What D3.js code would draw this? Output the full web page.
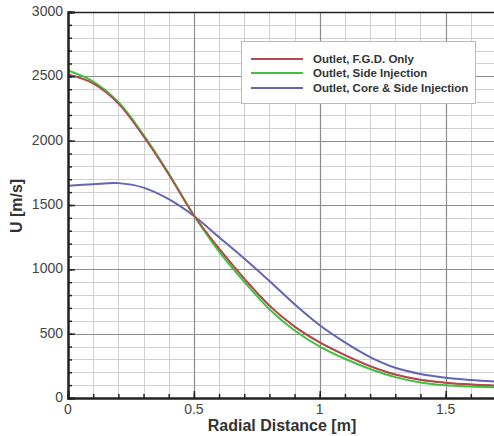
<!DOCTYPE html>
<html>
<head>
<meta charset="utf-8">
<script src="https://cdn.jsdelivr.net/npm/d3@7"></script>
<style>
  body { margin: 0; background: #fff; }
  svg { display: block; font-family: "Liberation Sans", Arial, sans-serif; }
</style>
</head>
<body>
<div id="chart"></div>
<script>
// radial positions (m)
var radius = [0, 0.1, 0.2, 0.3, 0.4, 0.5, 0.6, 0.7, 0.8, 0.9, 1.0, 1.1, 1.2, 1.3, 1.4, 1.5, 1.6, 1.7];

// U [m/s] for each case
var fgdOnly   = [2515, 2445, 2290, 2035, 1740, 1420, 1160, 928, 718, 555, 432, 333, 248, 182, 141, 119, 105, 96];
var sideInj   = [2545, 2460, 2300, 2045, 1745, 1420, 1138, 903, 690, 525, 400, 305, 225, 162, 121, 99, 89, 83];
var coreSide  = [1650, 1662, 1670, 1635, 1545, 1415, 1250, 1085, 910, 728, 565, 432, 318, 235, 187, 158, 140, 127];

var seriesNames = ["Outlet, F.G.D. Only", "Outlet, Side Injection", "Outlet, Core & Side Injection"];
var seriesColors = ["#b5484a", "#3fc13f", "#6464b4"];

var xTicks = [0, 0.5, 1, 1.5];
var yTicks = [0, 500, 1000, 1500, 2000, 2500, 3000];

var W = 494, H = 436;
var margin = {top: 12, right: -2, bottom: 38, left: 68};
var width = W - margin.left - margin.right,
    height = H - margin.top - margin.bottom;

var xScale = d3.scaleLinear().domain([0, 1.7]).range([0, width]);
var yScale = d3.scaleLinear().domain([0, 3000]).range([height, 0]);

var svg = d3.select("#chart").append("svg")
    .attr("width", W).attr("height", H);

var g = svg.append("g")
    .attr("transform", "translate(" + margin.left + "," + margin.top + ")");

// minor grid
g.selectAll(".vminor").data(d3.range(0, 1.71, 0.1)).enter().append("line")
    .attr("x1", function(d) { return Math.round(xScale(d)) + 0.5; })
    .attr("x2", function(d) { return Math.round(xScale(d)) + 0.5; })
    .attr("y1", 0).attr("y2", height)
    .attr("stroke", "#d0d0d0").attr("stroke-width", 1);
g.selectAll(".hminor").data(d3.range(0, 3001, 100)).enter().append("line")
    .attr("y1", function(d) { return Math.round(yScale(d)) + 0.5; })
    .attr("y2", function(d) { return Math.round(yScale(d)) + 0.5; })
    .attr("x1", 0).attr("x2", width)
    .attr("stroke", "#d0d0d0").attr("stroke-width", 1);

// major grid
g.selectAll(".vmajor").data(xTicks).enter().append("line")
    .attr("x1", function(d) { return Math.round(xScale(d)) + 0.5; })
    .attr("x2", function(d) { return Math.round(xScale(d)) + 0.5; })
    .attr("y1", 0).attr("y2", height)
    .attr("stroke", "#8c8c8c").attr("stroke-width", 1.2);
g.selectAll(".hmajor").data(yTicks).enter().append("line")
    .attr("y1", function(d) { return Math.round(yScale(d)) + 0.5; })
    .attr("y2", function(d) { return Math.round(yScale(d)) + 0.5; })
    .attr("x1", 0).attr("x2", width)
    .attr("stroke", "#8c8c8c").attr("stroke-width", 1.2);

// curves
var line = d3.line()
    .curve(d3.curveCatmullRom.alpha(0.5))
    .x(function(d) { return xScale(d[0]); })
    .y(function(d) { return yScale(d[1]); });

var allSeries = [fgdOnly, sideInj, coreSide];
[2, 0, 1].forEach(function(i) {
    g.append("path")
      .datum(d3.zip(radius, allSeries[i]))
      .attr("fill", "none")
      .attr("stroke", seriesColors[i])
      .attr("stroke-width", 2)
      .attr("d", line);
});
// red drawn again on top, thinner, so both red and green are seen
g.append("path")
  .datum(d3.zip(radius, fgdOnly))
  .attr("fill", "none")
  .attr("stroke", seriesColors[0])
  .attr("stroke-width", 1.3)
  .attr("d", line);

// frame
g.append("line").attr("x1", 0).attr("x2", width).attr("y1", 0.5).attr("y2", 0.5)
    .attr("stroke", "#222").attr("stroke-width", 1.5);

// axes, ticks pointing inward
var xAxis = d3.axisTop(xScale).tickValues(xTicks).tickSize(7).tickFormat("");
var xMinor = d3.axisTop(xScale).tickValues(d3.range(0, 1.71, 0.1)).tickSize(4).tickFormat("");
var yAxis = d3.axisRight(yScale).tickValues(yTicks).tickSize(7).tickFormat("");
var yMinor = d3.axisRight(yScale).tickValues(d3.range(0, 3001, 100)).tickSize(4).tickFormat("");

[xMinor, xAxis].forEach(function(a) {
    g.append("g").attr("class", "x axis")
      .attr("transform", "translate(0," + height + ")")
      .call(a);
});
[yMinor, yAxis].forEach(function(a) {
    g.append("g").attr("class", "y axis").call(a);
});
g.selectAll(".axis path").attr("stroke", "#222").attr("stroke-width", 2);
g.selectAll(".axis line").attr("stroke", "#222").attr("stroke-width", 1.5);

// tick labels
g.selectAll(".xlab").data(xTicks).enter().append("text")
    .attr("x", function(d) { return xScale(d); })
    .attr("y", height + 16)
    .attr("text-anchor", "middle")
    .attr("font-size", 14)
    .attr("fill", "#444")
    .text(function(d) { return d; });
g.selectAll(".ylab").data(yTicks).enter().append("text")
    .attr("x", -5)
    .attr("y", function(d) { return yScale(d) + 4; })
    .attr("text-anchor", "end")
    .attr("font-size", 14)
    .attr("fill", "#444")
    .text(function(d) { return d; });

// axis titles
svg.append("text")
    .attr("x", 282).attr("y", 431)
    .attr("text-anchor", "middle")
    .attr("font-size", 16).attr("font-weight", "bold")
    .attr("fill", "#333")
    .text("Radial Distance [m]");
svg.append("text")
    .attr("transform", "translate(22,206) rotate(-90)")
    .attr("text-anchor", "middle")
    .attr("font-size", 16).attr("font-weight", "bold")
    .attr("fill", "#333")
    .text("U [m/s]");

// legend
var legend = svg.append("g");
legend.append("rect")
    .attr("x", 241.5).attr("y", 41.5).attr("width", 234).attr("height", 62)
    .attr("fill", "#fff").attr("stroke", "#bbb").attr("stroke-width", 1);
var rows = [59, 73, 88];
seriesNames.forEach(function(name, i) {
    legend.append("line")
      .attr("x1", 251).attr("x2", 303).attr("y1", rows[i]).attr("y2", rows[i])
      .attr("stroke", seriesColors[i]).attr("stroke-width", 2);
    legend.append("text")
      .attr("x", 313).attr("y", rows[i] + 4)
      .attr("font-size", 11.5).attr("font-weight", "bold")
      .attr("fill", "#333")
      .text(name);
});
</script>
</body>
</html>
